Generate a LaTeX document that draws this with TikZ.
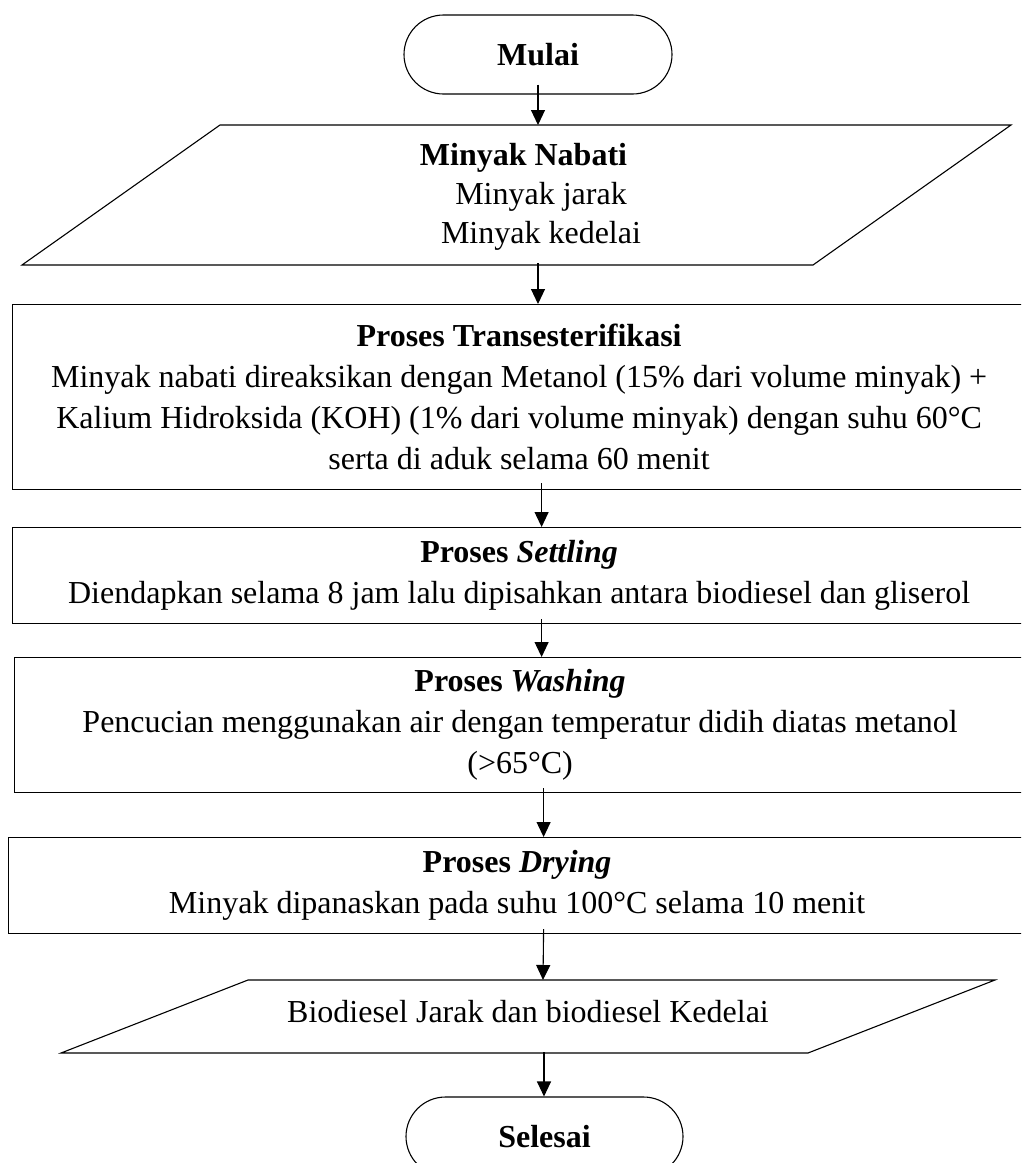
\documentclass[tikz,border=0pt]{standalone}
\usepackage{fontspec}
\setmainfont{Liberation Serif}
\usetikzlibrary{arrows.meta,calc}
\begin{document}
\begin{tikzpicture}[x=1pt,y=-1pt,
  txt/.style={font=\fontsize{32}{41}\selectfont},
  procbox/.style={draw, line width=1.2pt, inner sep=0pt, anchor=north west,
    align=center, txt},
  terminal/.style={draw, line width=1.1pt, rounded corners=39.5pt,
    minimum height=79pt, inner sep=0pt,
    font={\fontsize{32}{41}\selectfont\bfseries}},
  iobox/.style={draw, line width=1.1pt, line join=miter},
  arr/.style={line width=1.1pt, -{Triangle[width=14pt,length=15pt]}}]
\useasboundingbox (0,0) rectangle (1021,1163);
\clip (0,0) rectangle (1021,1163);

% start
\node[terminal, minimum width=268pt] (mulai) at (538,54.5) {Mulai};

% input: vegetable oils
\coordinate (inA) at (220,125);
\coordinate (inB) at (1011,125);
\coordinate (inC) at (813,265);
\coordinate (inD) at (22,265);
\draw[iobox] (inA) -- (inB) -- (inC) -- (inD) -- cycle;
\coordinate (in-top) at (538,125);
\coordinate (in-bot) at (538,263);
\node[align=center, font=\fontsize{32}{39}\selectfont] (input) at (541,197)
  {{\bfseries Minyak Nabati}\hspace*{35pt}\\Minyak jarak\\Minyak kedelai};

% process steps
\node[procbox, minimum width=1013pt, minimum height=185pt] (trans) at (12,304)
  {{\bfseries Proses Transesterifikasi}\\
   Minyak nabati direaksikan dengan Metanol (15\% dari volume minyak) +\\
   Kalium Hidroksida (KOH) (1\% dari volume minyak) dengan suhu 60°C\\
   serta di aduk selama 60 menit};

\node[procbox, minimum width=1013pt, minimum height=96pt] (settle) at (12,527)
  {{\bfseries Proses \textit{Settling}}\\
   Diendapkan selama 8 jam lalu dipisahkan antara biodiesel dan gliserol};

\node[procbox, minimum width=1011pt, minimum height=135pt] (wash) at (14,657)
  {{\bfseries Proses \textit{Washing}}\\
   Pencucian menggunakan air dengan temperatur didih diatas metanol\\
   (>65°C)};

\node[procbox, minimum width=1017pt, minimum height=96pt] (dry) at (8,837)
  {{\bfseries Proses \textit{Drying}}\\
   Minyak dipanaskan pada suhu 100°C selama 10 menit};

% output: biodiesel
\coordinate (outA) at (248,980);
\coordinate (outB) at (995,980);
\coordinate (outC) at (808,1053);
\coordinate (outD) at (61,1053);
\draw[iobox] (outA) -- (outB) -- (outC) -- (outD) -- cycle;
\coordinate (out-top) at (543,980);
\coordinate (out-bot) at (544,1052);
\node[txt] (output) at (528,1012) {Biodiesel Jarak dan biodiesel Kedelai};

% end
\node[terminal, minimum width=277pt] (selesai) at (544.5,1136.5) {Selesai};

% flow
\draw[arr] ([yshift=10pt]mulai.south) -- (in-top);
\draw[arr] (in-bot) -- (in-bot |- trans.north);
\draw[arr] ([xshift=22.5pt,yshift=7pt]trans.south) -- ([xshift=22.5pt]settle.north);
\draw[arr] ([xshift=22.5pt,yshift=5pt]settle.south) -- ([xshift=21.5pt]wash.north);
\draw[arr] ([xshift=23.5pt,yshift=5pt]wash.south) -- ([xshift=26.5pt]dry.north);
\draw[arr] ([xshift=26.5pt,yshift=5pt]dry.south) -- (out-top);
\draw[arr] (out-bot) -- (out-bot |- selesai.north);
\end{tikzpicture}
\end{document}
